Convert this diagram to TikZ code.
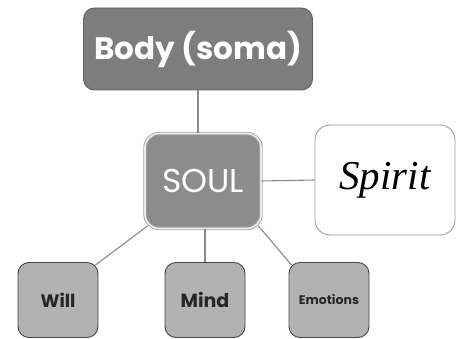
\documentclass[tikz,border=0pt]{standalone}
\usepackage{fontspec}
\setmainfont{Poppins}
\newfontfamily\spiritfont{Liberation Serif}
\usetikzlibrary{positioning}
\definecolor{bodygray}{HTML}{7D7D7D}
\definecolor{soulgray}{HTML}{8C8C8C}
\definecolor{partgray}{HTML}{B2B2B2}
\definecolor{linegray}{HTML}{8A8A8A}
\tikzset{every node/.append style={transform shape=false}}
\tikzset{
  box/.style={rectangle, rounded corners=11pt, inner sep=0pt, line width=0.9pt},
  bodybox/.style={box, fill=bodygray, draw=gray!75!black, minimum width=229pt, minimum height=82pt,
    text=white, font=\bfseries\fontsize{31}{34}\selectfont},
  soulbox/.style={box, rounded corners=14pt, fill=soulgray, draw=gray!70, double=gray!15, double distance=1.6pt,
    minimum width=116pt, minimum height=95pt, text=white, font=\fontsize{33}{36}\selectfont},
  spiritbox/.style={box, rounded corners=15pt, fill=white, draw=gray!80, minimum width=140pt, minimum height=110pt,
    font=\spiritfont\itshape\fontsize{41}{44}\selectfont},
  partbox/.style={box, fill=partgray, draw=gray!55!black, minimum width=80pt, minimum height=75pt,
    text=black!85, font=\bfseries},
  link/.style={draw=linegray, line width=1.1pt}
}

\begin{document}
\begin{tikzpicture}[x=1pt, y=-1pt]
  \useasboundingbox (0,0) rectangle (457,339);

  \node[bodybox] (body) at (198,49) {Body (soma)};
  \node[soulbox] (soul) at (203,181) {SOUL};
  \node[spiritbox] (spirit) at (385,180) {Spirit};

  \node[partbox, font=\bfseries\fontsize{18}{20}\selectfont] (will) at (58,300) {Will};
  \node[partbox, font=\bfseries\fontsize{19}{21}\selectfont] (mind) at (205,300) {Mind};
  \node[partbox, font=\bfseries\fontsize{12.5}{14}\selectfont] (emotions) at (329,300) {Emotions};

  \draw[link] (body.south) -- (body.south |- soul.north);
  \draw[link] (soul.east) -- (spirit.west);
  \draw[link] (soul.south west) ++(3,-3) -- ([xshift=-3pt,yshift=-3pt]will.north east);
  \draw[link] (soul.south -| mind.north) -- (mind.north);
  \draw[link] (soul.south east) ++(-3,-3) -- ([xshift=3pt,yshift=-3pt]emotions.north west);
\end{tikzpicture}
\end{document}
